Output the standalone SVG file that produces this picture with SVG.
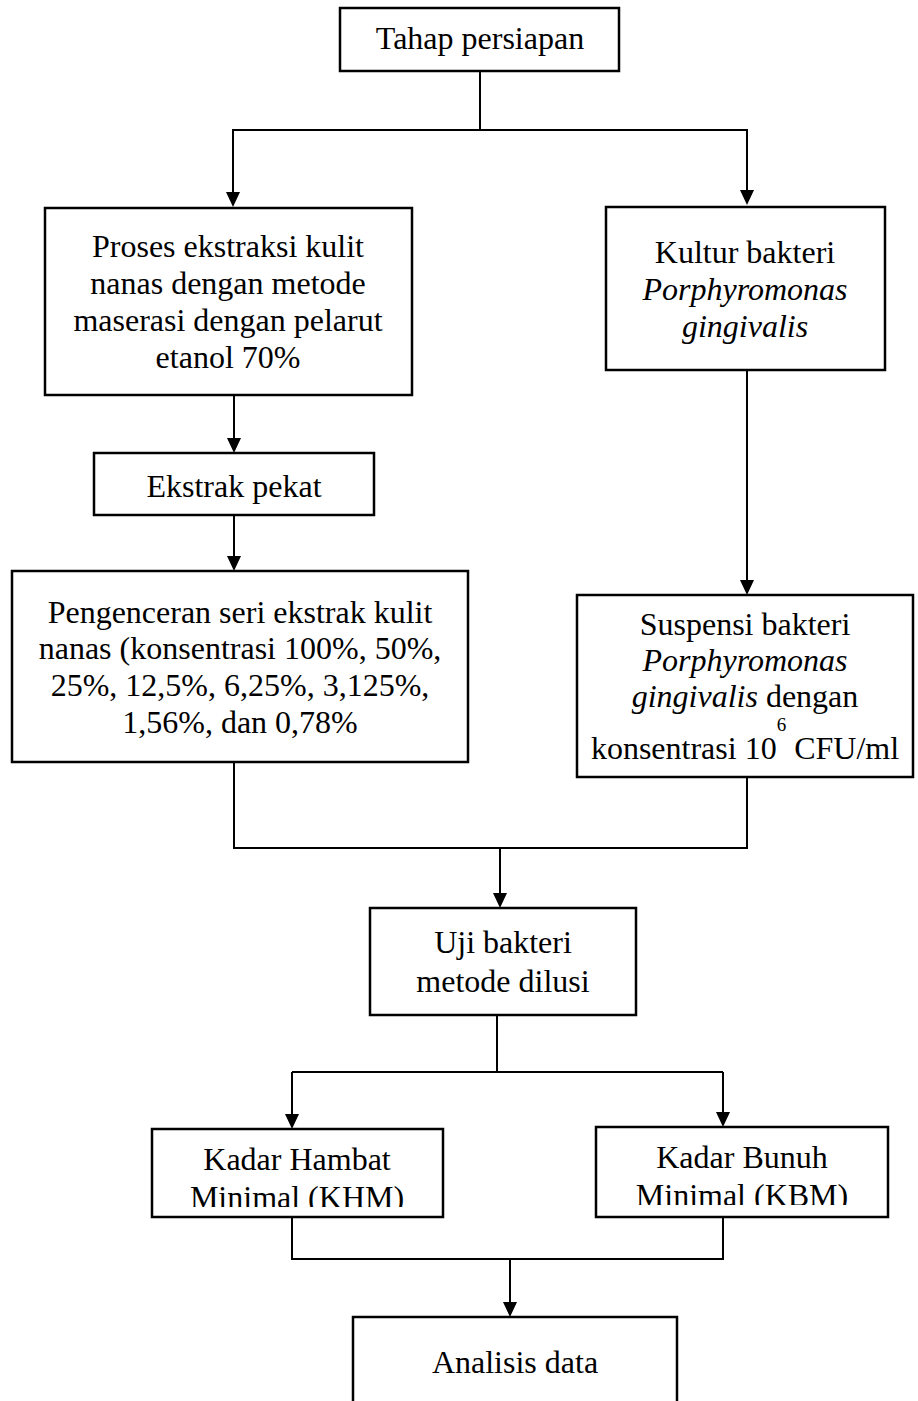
<svg xmlns="http://www.w3.org/2000/svg" width="918" height="1401" viewBox="0 0 918 1401">
<style>
.box{fill:#fff;stroke:#000;stroke-width:2.5}
.t{font-family:"Liberation Serif","Times New Roman",serif;font-size:32px;fill:#000;text-anchor:middle}
.i{font-style:italic}
.c{fill:none;stroke:#000;stroke-width:2}
</style>
<defs>
<marker id="ah" markerUnits="userSpaceOnUse" markerWidth="15" markerHeight="14" refX="7" refY="7" orient="auto">
<path d="M0,0 L15,7 L0,14 z" fill="#000"/>
</marker>
<clipPath id="clipKHM"><rect x="152" y="1129" width="291" height="78"/></clipPath>
<clipPath id="clipKBM"><rect x="596" y="1127" width="292" height="78"/></clipPath>
</defs>
<rect width="918" height="1401" fill="#fff"/>
<g id="connectors">
<path class="c" d="M480,71 V130 M232,130 H748"/>
<path class="c" d="M233,130 V199" marker-end="url(#ah)"/>
<path class="c" d="M747,130 V197" marker-end="url(#ah)"/>
<path class="c" d="M234,395 V445" marker-end="url(#ah)"/>
<path class="c" d="M234,515 V563" marker-end="url(#ah)"/>
<path class="c" d="M747,370 V587" marker-end="url(#ah)"/>
<path class="c" d="M234,762 V848 H747 V777"/>
<path class="c" d="M500,848 V900" marker-end="url(#ah)"/>
<path class="c" d="M497,1015 V1072 M292,1072 H723"/>
<path class="c" d="M292,1072 V1121" marker-end="url(#ah)"/>
<path class="c" d="M723,1072 V1119" marker-end="url(#ah)"/>
<path class="c" d="M292,1217 V1259 H723 V1217"/>
<path class="c" d="M510,1259 V1309" marker-end="url(#ah)"/>
</g>
<g id="n-tahap">
<rect class="box" x="340" y="8" width="279" height="63"/>
<text class="t" x="480" y="49">Tahap persiapan</text>
</g>
<g id="n-proses">
<rect class="box" x="45" y="208" width="367" height="187"/>
<text class="t" x="228" y="257">Proses ekstraksi kulit</text>
<text class="t" x="228" y="294">nanas dengan metode</text>
<text class="t" x="228" y="331">maserasi dengan pelarut</text>
<text class="t" x="228" y="368">etanol 70%</text>
</g>
<g id="n-kultur">
<rect class="box" x="606" y="207" width="279" height="163"/>
<text class="t" x="745" y="263">Kultur bakteri</text>
<text class="t i" x="745" y="300">Porphyromonas</text>
<text class="t i" x="745" y="337">gingivalis</text>
</g>
<g id="n-ekstrak">
<rect class="box" x="94" y="453" width="280" height="62"/>
<text class="t" x="234" y="497">Ekstrak pekat</text>
</g>
<g id="n-pengenceran">
<rect class="box" x="12" y="571" width="456" height="191"/>
<text class="t" x="240" y="623">Pengenceran seri ekstrak kulit</text>
<text class="t" x="240" y="659">nanas (konsentrasi 100%, 50%,</text>
<text class="t" x="240" y="696">25%, 12,5%, 6,25%, 3,125%,</text>
<text class="t" x="240" y="733">1,56%, dan 0,78%</text>
</g>
<g id="n-suspensi">
<rect class="box" x="577" y="595" width="336" height="182"/>
<text class="t" x="745" y="635">Suspensi bakteri</text>
<text class="t i" x="745" y="671">Porphyromonas</text>
<text class="t" x="745" y="707"><tspan class="i">gingivalis</tspan> dengan</text>
<text class="t" x="745" y="759">konsentrasi 10<tspan font-size="19" dy="-28">6</tspan><tspan dy="28"> CFU/ml</tspan></text>
</g>
<g id="n-uji">
<rect class="box" x="370" y="908" width="266" height="107"/>
<text class="t" x="503" y="953">Uji bakteri</text>
<text class="t" x="503" y="992">metode dilusi</text>
</g>
<g id="n-khm">
<rect class="box" x="152" y="1129" width="291" height="88"/>
<text class="t" x="297" y="1170">Kadar Hambat</text>
<text class="t" x="297" y="1208" clip-path="url(#clipKHM)">Minimal (KHM)</text>
</g>
<g id="n-kbm">
<rect class="box" x="596" y="1127" width="292" height="90"/>
<text class="t" x="742" y="1168">Kadar Bunuh</text>
<text class="t" x="742" y="1206" clip-path="url(#clipKBM)">Minimal (KBM)</text>
</g>
<g id="n-analisis">
<rect class="box" x="353" y="1317" width="324" height="100"/>
<text class="t" x="515" y="1373">Analisis data</text>
</g>
</svg>
